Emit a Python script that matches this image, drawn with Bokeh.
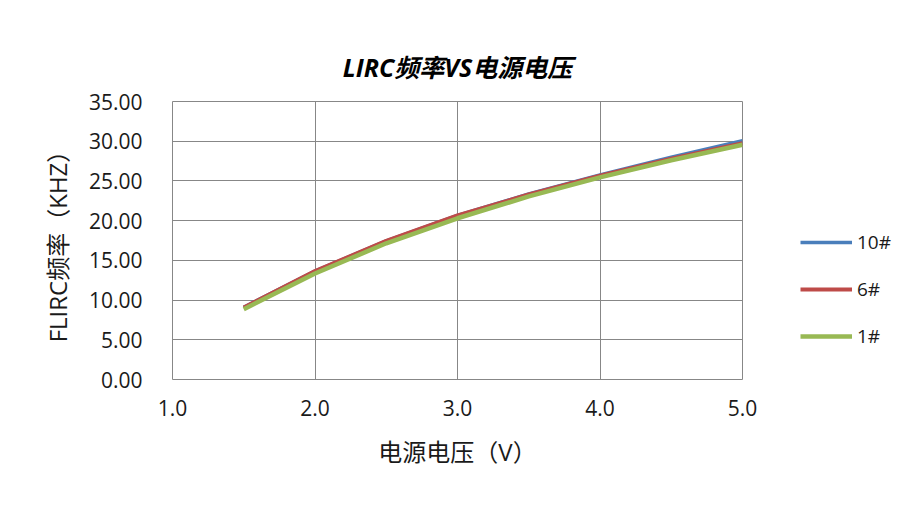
from bokeh.plotting import figure
from bokeh.models import Range1d, FixedTicker, NumeralTickFormatter, Legend, LegendItem
from bokeh.embed import file_html
from bokeh.resources import INLINE

voltage = [1.5, 2.0, 2.5, 3.0, 3.5, 4.0, 4.5, 5.0]
freq_10 = [9.1, 13.65, 17.45, 20.65, 23.35, 25.75, 28.0, 30.05]
freq_6 = [9.05, 13.65, 17.45, 20.65, 23.3, 25.65, 27.8, 29.75]
freq_1 = [8.85, 13.35, 17.15, 20.3, 23.05, 25.45, 27.6, 29.55]
series_names = ["10#", "6#", "1#"]
series_colors = ["#4A7EBB", "#BE4B48", "#98B954"]
x_ticks = [1, 2, 3, 4, 5]
y_ticks = [0, 5, 10, 15, 20, 25, 30, 35]

FONT = "Open Sans, Noto Sans CJK SC"
GRID = "#878787"
TXT = "#1a1a1a"

p = figure(frame_width=570, frame_height=278, output_backend="svg", toolbar_location=None,
           x_range=Range1d(1, 5), y_range=Range1d(0, 35),
           min_border_left=172, min_border_right=10, min_border_top=101, min_border_bottom=111)

p.title.text = "LIRC频率VS电源电压"
p.title.text_font = FONT
p.title.text_font_style = "bold italic"
p.title.text_font_size = "25px"
p.title.align = "center"
p.title.offset = 0
p.title.standoff = 35
p.title.text_color = "#000000"

p.xaxis.ticker = FixedTicker(ticks=x_ticks)
p.yaxis.ticker = FixedTicker(ticks=y_ticks)
p.xaxis.formatter = NumeralTickFormatter(format="0.0")
p.yaxis.formatter = NumeralTickFormatter(format="0.00")
for ax in (p.xaxis[0], p.yaxis[0]):
    ax.axis_line_color = None
    ax.major_tick_line_color = None
    ax.minor_tick_line_color = None
    ax.major_label_text_font = FONT
    ax.major_label_text_font_size = "21px"
    ax.major_label_text_color = TXT
    ax.axis_label_text_font = FONT
    ax.axis_label_text_font_size = "24px"
    ax.axis_label_text_font_style = "normal"
    ax.axis_label_text_color = TXT
p.xaxis.major_label_standoff = 14
p.yaxis.major_label_standoff = 24
p.xaxis.axis_label = "电源电压（V）"
p.yaxis.axis_label = "FLIRC频率（KHZ）"
p.xaxis.axis_label_standoff = 16
p.yaxis.axis_label_standoff = 12

p.xgrid.ticker = FixedTicker(ticks=x_ticks)
p.ygrid.ticker = FixedTicker(ticks=y_ticks)
p.grid.grid_line_color = GRID
p.grid.grid_line_width = 1
p.outline_line_color = GRID
p.outline_line_width = 1
p.background_fill_color = "white"
p.border_fill_color = "white"

r10 = p.line(voltage, freq_10, line_color=series_colors[0], line_width=3.5)
r6 = p.line(voltage, freq_6, line_color=series_colors[1], line_width=4)
r1 = p.line(voltage, freq_1, line_color=series_colors[2], line_width=4.5)

legend = Legend(items=[LegendItem(label=series_names[0], renderers=[r10]),
                       LegendItem(label=series_names[1], renderers=[r6]),
                       LegendItem(label=series_names[2], renderers=[r1])],
                location=(58, 30), padding=0, margin=0, spacing=21,
                glyph_width=52, glyph_height=26, label_standoff=5,
                label_text_font=FONT, label_text_font_size="19px",
                label_text_color=TXT, border_line_color=None,
                background_fill_alpha=0)
p.add_layout(legend, "right")

open("out.html", "w").write(file_html(p, INLINE))
